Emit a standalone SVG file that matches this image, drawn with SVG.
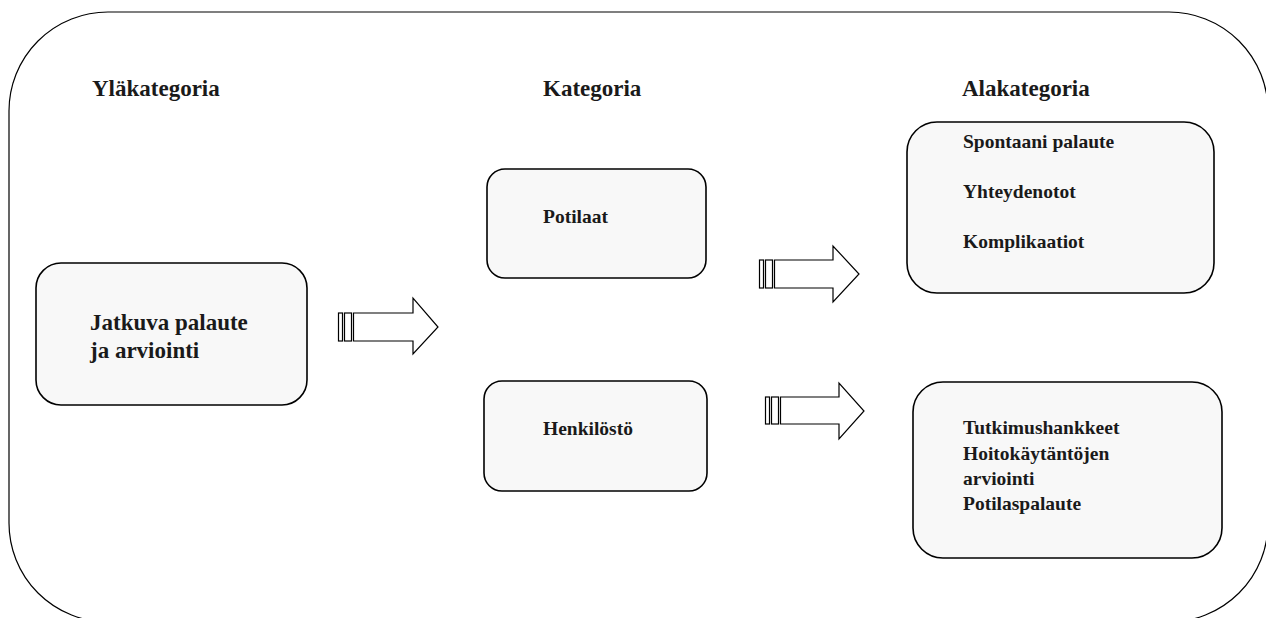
<svg xmlns="http://www.w3.org/2000/svg" width="1266" height="618" viewBox="0 0 1266 618">
  <style>
    .frame { fill: none; stroke: #000; stroke-width: 1.2; }
    .box { fill: #f8f8f8; stroke: #000; stroke-width: 1.6; }
    .arrow { fill: #fff; stroke: #000; stroke-width: 1.2; }
    text { font-family: "Liberation Serif", "Times New Roman", serif; font-weight: bold; fill: #1a1a1a; }
    .head { font-size: 23px; }
    .big { font-size: 23px; }
    .item { font-size: 19.5px; }
  </style>
  <rect width="1266" height="618" fill="#fff"/>

  <!-- outer frame -->
  <rect class="frame" x="9" y="12" width="1259" height="610" rx="99" ry="99"/>

  <!-- column headings -->
  <g id="headings">
    <text class="head" x="92" y="96">Yläkategoria</text>
    <text class="head" x="543" y="96">Kategoria</text>
    <text class="head" x="962" y="96">Alakategoria</text>
  </g>

  <g id="jatkuva">
    <rect class="box" x="36" y="263" width="271" height="142" rx="25" ry="25"/>
    <text class="big" x="90" y="330">Jatkuva palaute</text>
    <text class="big" x="90" y="358">ja arviointi</text>
  </g>

  <g id="potilaat">
    <rect class="box" x="487" y="169" width="219" height="109" rx="18" ry="18"/>
    <text class="item" x="543" y="223">Potilaat</text>
  </g>

  <g id="henkilosto">
    <rect class="box" x="484" y="381" width="223" height="110" rx="18" ry="18"/>
    <text class="item" x="543" y="435">Henkilöstö</text>
  </g>

  <g id="alakategoria-potilaat">
    <rect class="box" x="907" y="122" width="307" height="171" rx="30" ry="30"/>
    <text class="item" x="963" y="148">Spontaani palaute</text>
    <text class="item" x="963" y="198">Yhteydenotot</text>
    <text class="item" x="963" y="248">Komplikaatiot</text>
  </g>

  <g id="alakategoria-henkilosto">
    <rect class="box" x="913" y="382" width="309" height="176" rx="30" ry="30"/>
    <text class="item" x="963" y="434">Tutkimushankkeet</text>
    <text class="item" x="963" y="460">Hoitokäytäntöjen</text>
    <text class="item" x="963" y="485">arviointi</text>
    <text class="item" x="963" y="510">Potilaspalaute</text>
  </g>

  <!-- striped block arrows -->
  <g id="connectors">
    <g>
      <rect class="arrow" x="338.5" y="313" width="4" height="28"/>
      <rect class="arrow" x="344.5" y="313" width="7" height="28"/>
      <path class="arrow" d="M353.5 313 H413 V298 L438 327 L413 354 V341 H353.5 Z"/>
    </g>
    <g>
      <rect class="arrow" x="759.5" y="260" width="4" height="28"/>
      <rect class="arrow" x="765.5" y="260" width="7" height="28"/>
      <path class="arrow" d="M774.5 260 H833 V246 L859 274 L833 302 V288 H774.5 Z"/>
    </g>
    <g>
      <rect class="arrow" x="765.5" y="397" width="4" height="27"/>
      <rect class="arrow" x="771.5" y="397" width="7" height="27"/>
      <path class="arrow" d="M780.5 397 H839 V383 L864 411 L839 439 V424 H780.5 Z"/>
    </g>
  </g>
</svg>
